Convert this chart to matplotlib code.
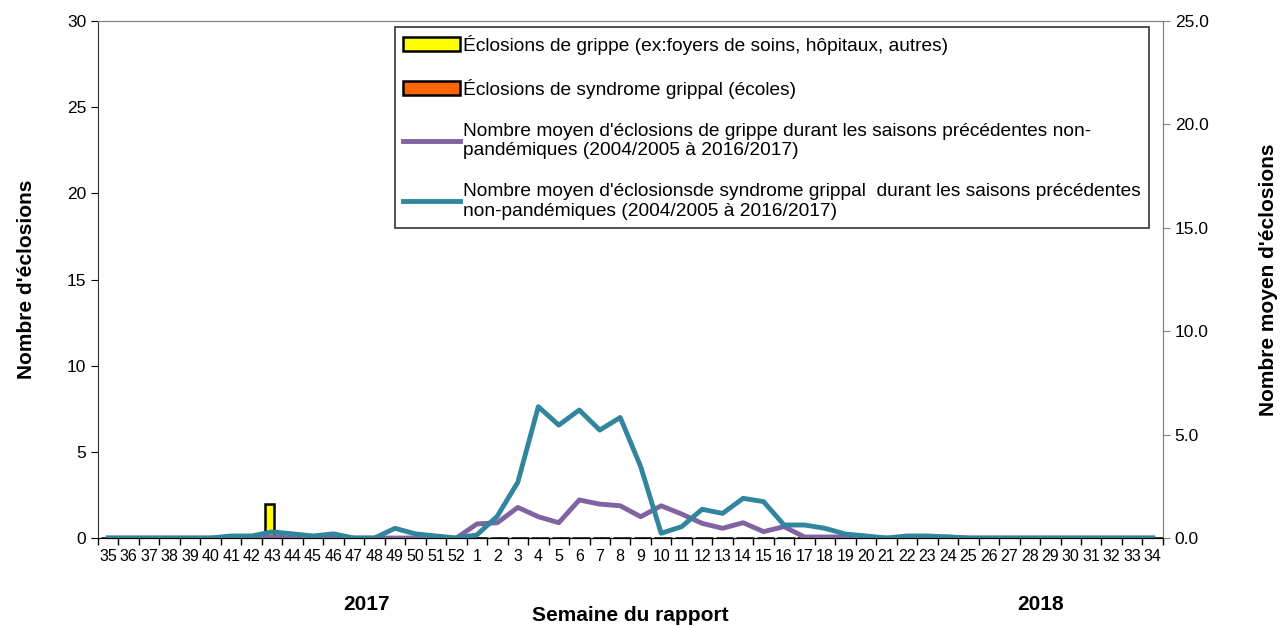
import matplotlib.pyplot as plt
import numpy as np

plt.rcParams['font.family'] = ['Liberation Sans Narrow', 'Liberation Sans', 'DejaVu Sans']

weeks = [str(w) for w in range(35, 53)] + [str(w) for w in range(1, 35)]

# eclosions (left axis)
grippe = [0] * 8 + [2] + [0] * 43
syndrome = [0] * 52

# moyennes (right axis)
moy_grippe = [0, 0, 0, 0, 0, 0, 0, 0, 0.05, 0, 0, 0, 0, 0, 0, 0, 0, 0,
              0.68, 0.74, 1.48, 1.03, 0.74, 1.84, 1.64, 1.56, 1.03, 1.56, 1.16, 0.71,
              0.47, 0.74, 0.31, 0.55, 0.05, 0.05, 0.05, 0, 0, 0, 0, 0.05,
              0, 0, 0, 0, 0, 0, 0, 0, 0, 0]
moy_syndrome = [0, 0, 0, 0, 0, 0, 0.1, 0.1, 0.3, 0.2, 0.1, 0.2, 0, 0, 0.47, 0.2, 0.1, 0,
                0.15, 1.06, 2.7, 6.35, 5.46, 6.19, 5.22, 5.83, 3.45, 0.23, 0.55, 1.39,
                1.19, 1.92, 1.76, 0.63, 0.63, 0.47, 0.19, 0.1, 0, 0.1, 0.1, 0.05,
                0, 0, 0, 0, 0, 0, 0, 0, 0, 0]

x = np.arange(len(weeks))

fig = plt.figure(figsize=(12.83, 6.27), dpi=100)
ax = fig.add_axes([0.0764, 0.1419, 0.83, 0.8246])
ax2 = ax.twinx()

b1 = ax.bar(x - 0.12, grippe, width=0.45, color='#ffff00', edgecolor='black', linewidth=1.8,
            label="Éclosions de grippe (ex:foyers de soins, hôpitaux, autres)")
b2 = ax.bar(x + 0.3, syndrome, width=0.45, color='#ff6600', edgecolor='black', linewidth=1.8,
            label="Éclosions de syndrome grippal (écoles)")
l1, = ax2.plot(x, moy_grippe, color='#8064a2', lw=3.5,
               label="Nombre moyen d'éclosions de grippe durant les saisons précédentes non-\npandémiques (2004/2005 à 2016/2017)")
l2, = ax2.plot(x, moy_syndrome, color='#31859c', lw=3.5,
               label="Nombre moyen d'éclosionsde syndrome grippal  durant les saisons précédentes\nnon-pandémiques (2004/2005 à 2016/2017)")

ax.set_xlim(-0.5, len(weeks) - 0.5)
ax.set_ylim(0, 30)
ax2.set_ylim(0, 25)
ax.set_yticks(range(0, 31, 5))
ax2.set_yticks(np.arange(0, 26, 5))
ax2.set_yticklabels([f"{v:.1f}" for v in np.arange(0, 26, 5)])

ax.set_xticks(x)
ax.set_xticklabels(weeks)
ax.set_xticks(np.arange(-0.5, len(weeks), 1), minor=True)
ax.tick_params(axis='x', which='major', length=0, labelsize=11.5, pad=8)
ax.tick_params(axis='x', which='minor', length=5, width=1)
ax.tick_params(axis='y', labelsize=12.5, length=5)
ax2.tick_params(axis='y', labelsize=12.5, length=5, color='#808080')

for s in ['top', 'right']:
    ax.spines[s].set_color('#808080')
    ax2.spines[s].set_color('#808080')
ax2.spines['left'].set_visible(False)
ax.spines['left'].set_color('#333333')
ax2.spines['bottom'].set_color('black')

ax.set_ylabel("Nombre d'éclosions", fontsize=15, fontweight='bold', labelpad=22)
ax2.set_ylabel("Nombre moyen d'éclosions", fontsize=15, fontweight='bold', labelpad=36)
ax.set_xlabel("Semaine du rapport", fontsize=15, fontweight='bold', labelpad=30)

ax.text(0.252, -0.14, "2017", transform=ax.transAxes, fontsize=15, fontweight='bold', ha='center')
ax.text(0.885, -0.14, "2018", transform=ax.transAxes, fontsize=15, fontweight='bold', ha='center')

leg = ax2.legend(handles=[b1, b2, l1, l2], loc='upper left', bbox_to_anchor=(0.279, 0.988),
                 borderaxespad=0, frameon=True, fancybox=False, edgecolor='black',
                 handlelength=3.0, handletextpad=0.15, labelspacing=1.25, borderpad=0.4,
                 prop={'size': 13.8})
leg.get_frame().set_linewidth(1.2)

fig.savefig('out.png', dpi=100)
